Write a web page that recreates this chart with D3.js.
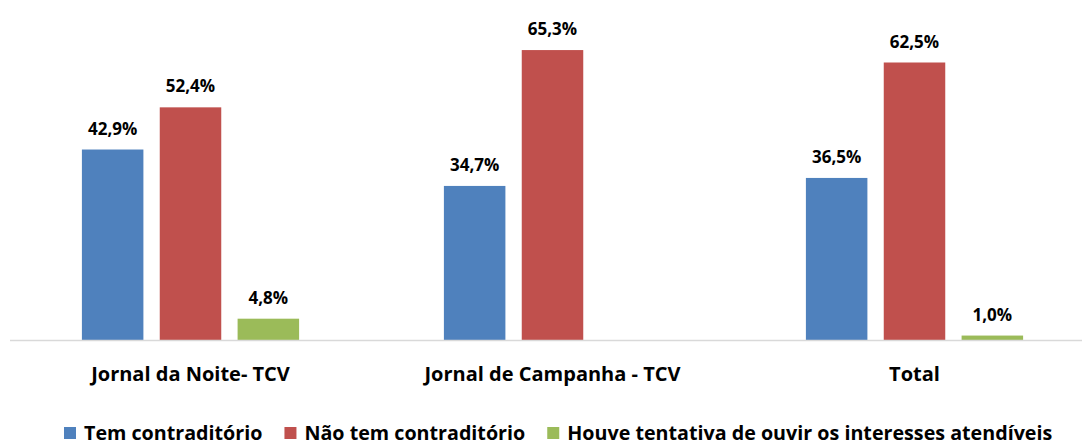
<!DOCTYPE html>
<meta charset="utf-8">
<script src="https://d3js.org/d3.v7.min.js"></script>
<style>
    body { margin: 0; background: #fff; }
    text { font-family: "Open Sans", sans-serif; font-weight: bold; fill: #000; }
</style>
<svg width="1082" height="445"></svg>

<script>
    const categories = ["Jornal da Noite- TCV", "Jornal de Campanha - TCV", "Total"];
    const seriesNames = ["Tem contraditório", "Não tem contraditório", "Houve tentativa de ouvir os interesses atendíveis"];
    const temContraditorio = [42.9, 34.7, 36.5];
    const naoTemContraditorio = [52.4, 65.3, 62.5];
    const houveTentativa = [4.8, null, 1.0];
    const colors = ["#4f81bd", "#c0504d", "#9bbb59"];

    const series = [temContraditorio, naoTemContraditorio, houveTentativa];

    const width = 1082, height = 445,
        baseline = 340;

    const svg = d3.select("svg");

    const x0 = d3.scaleBand()
        .domain(categories)
        .range([9.5, 1095.5])
        .paddingInner(0)
        .paddingOuter(0);

    const x1 = d3.scaleBand()
        .domain(d3.range(seriesNames.length))
        .range([0, x0.bandwidth()])
        .paddingInner(0.21)
        .paddingOuter(0.93);

    const y = d3.scaleLinear()
        .domain([0, 70])
        .range([baseline, baseline - 70 * 4.44]);

    const fmt = v => d3.format(".1f")(v).replace(".", ",") + "%";

    // bars
    const groups = svg.append("g")
        .selectAll("g")
        .data(categories)
        .join("g")
        .attr("transform", d => "translate(" + x0(d) + ",0)");

    const cells = groups.selectAll("g")
        .data((d, i) => series.map((s, j) => ({ s: j, v: s[i] })).filter(d => d.v != null))
        .join("g");

    cells.append("rect")
        .attr("x", d => x1(d.s))
        .attr("width", x1.bandwidth())
        .attr("y", d => y(d.v))
        .attr("height", d => baseline - y(d.v))
        .attr("fill", d => colors[d.s]);

    cells.append("text")
        .attr("x", d => x1(d.s) + x1.bandwidth() / 2)
        .attr("y", d => y(d.v) - 15)
        .attr("text-anchor", "middle")
        .style("font-size", "17px")
        .text(d => fmt(d.v));

    // axis line
    svg.append("line")
        .attr("x1", 10).attr("x2", width)
        .attr("y1", baseline + 0.5).attr("y2", baseline + 0.5)
        .attr("stroke", "#d9d9d9")
        .attr("stroke-width", 1.5);

    // category labels
    svg.append("g")
        .selectAll("text")
        .data(categories)
        .join("text")
        .attr("x", d => x0(d) + x0.bandwidth() / 2)
        .attr("y", 381)
        .attr("text-anchor", "middle")
        .style("font-size", "20px")
        .text(d => d);

    // legend
    const legend = svg.append("g").attr("transform", "translate(0,440)");
    let lx = 64;
    seriesNames.forEach((name, i) => {
        legend.append("rect")
            .attr("x", lx).attr("y", -13)
            .attr("width", 12).attr("height", 12)
            .attr("fill", colors[i]);
        const t = legend.append("text")
            .attr("x", lx + 20)
            .attr("y", 0)
            .style("font-size", "19.7px")
            .text(name);
        lx += 20 + t.node().getComputedTextLength() + 22;
    });
</script>
